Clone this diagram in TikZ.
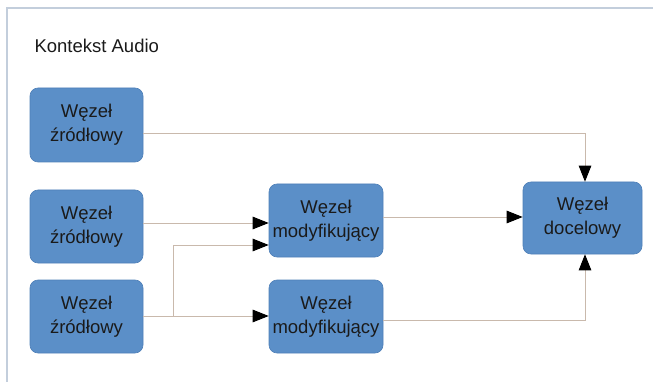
\documentclass[tikz,border=0pt]{standalone}
\usepackage{fontspec}
\setmainfont{Liberation Sans}
\usetikzlibrary{arrows.meta}
\definecolor{boxblue}{HTML}{5B8FC8}
\definecolor{boxedge}{HTML}{4F80B8}
\definecolor{wire}{HTML}{C9B9AC}
\definecolor{framec}{HTML}{C3CEDC}
\definecolor{inkc}{HTML}{1A1A1A}
\begin{document}
\begin{tikzpicture}[x=1pt,y=-1pt,
  nodebox/.style={draw=boxedge,line width=0.6pt,fill=boxblue,rounded corners=8pt,
    text=inkc,align=center,inner sep=0pt,
    font=\fontsize{18.5}{24}\selectfont},
  wireline/.style={draw=wire,line width=0.9pt,
    -{Triangle[length=16pt,width=12.5pt,fill=black,color=black]}}]
  % canvas and outer frame
  \useasboundingbox (0,0) rectangle (653,382);
  \fill[white] (0,0) rectangle (653,382);
  \draw[framec,line width=1.2pt] (7,382) -- (7,8) -- (653,8);

  \node[anchor=west,text=inkc,font=\fontsize{18.5}{22}\selectfont] (title) at (31,46) {Kontekst Audio};

  % source nodes
  \node[nodebox,minimum width=113pt,minimum height=74pt] (src1) at (86.5,125) {Węzeł\\źródłowy};
  \node[nodebox,minimum width=113pt,minimum height=73pt] (src2) at (86.5,226.5) {Węzeł\\źródłowy};
  \node[nodebox,minimum width=113pt,minimum height=73pt] (src3) at (86.5,316.5) {Węzeł\\źródłowy};

  % modifier nodes
  \node[nodebox,minimum width=114pt,minimum height=73pt] (mod1) at (326,220.5) {Węzeł\\modyfikujący};
  \node[nodebox,minimum width=114pt,minimum height=73pt] (mod2) at (326,316.5) {Węzeł\\modyfikujący};

  % destination node
  \node[nodebox,minimum width=119pt,minimum height=72pt] (dst) at (582.5,218) {Węzeł\\docelowy};

  % junction points
  \coordinate (bend1) at (585,133);
  \coordinate (bend2) at (585,320);
  \coordinate (split) at (173,316);
  \coordinate (splitup) at (173,245);

  % connectors
  \draw[wireline] (src1.east |- bend1) -- (bend1) -- (dst.north -| bend1);
  \draw[wireline] (src2.east |- 0,223) -- (mod1.west |- 0,223);
  \draw[wireline] (src3.east |- split) -- (mod2.west |- split);
  \draw[wireline] (split) -- (splitup) -- (mod1.west |- splitup);
  \draw[wireline] (mod1.east |- 0,217) -- (dst.west |- 0,217);
  \draw[wireline] (mod2.east |- bend2) -- (bend2) -- (dst.south -| bend2);
\end{tikzpicture}
\end{document}
